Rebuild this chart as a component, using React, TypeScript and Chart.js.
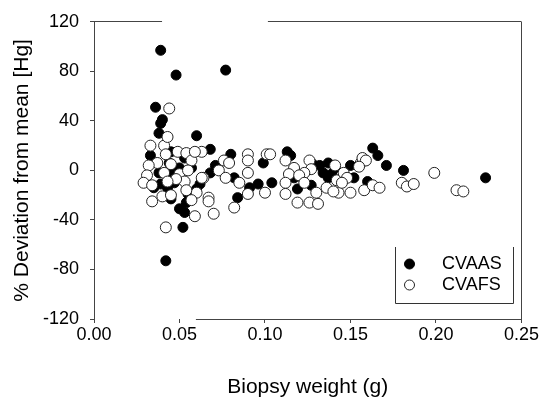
import { useEffect, useRef } from "react";
import { Chart, registerables } from "chart.js";

Chart.register(...registerables);

// ---- data ----
const SERIES_LABELS = ["CVAAS", "CVAFS"];
const X_TICKS = [0, 0.05, 0.1, 0.15, 0.2, 0.25];
const Y_TICKS = [-120, -80, -40, 0, 40, 80, 120];
const X_TITLE = "Biopsy weight (g)";
const Y_TITLE = "% Deviation from mean [Hg]";

const CVAAS_WEIGHT = [
  0.039, 0.048, 0.077, 0.036, 0.040, 0.039, 0.038, 0.060, 0.068, 0.033,
  0.080, 0.045, 0.042, 0.052, 0.050, 0.053, 0.045, 0.163, 0.166, 0.171,
  0.181, 0.229, 0.150, 0.152, 0.160, 0.145, 0.137, 0.132, 0.134, 0.137,
  0.139, 0.113, 0.115, 0.104, 0.119, 0.099, 0.096, 0.082, 0.084, 0.068,
  0.060, 0.050, 0.057, 0.038, 0.039, 0.043, 0.035, 0.047, 0.055, 0.044,
  0.053, 0.091, 0.121, 0.127, 0.128, 0.141, 0.117, 0.046, 0.054, 0.062,
  0.071,
];
const CVAAS_DEVIATION = [
  97, 77, 81, 51, 41, 38, 30, 28, 17, 12,
  13, 15, -73, -46, -31, -34, -23, 18, 12, 4,
  0, -6, 4, -6, -9, -6, 6, 4, -2, -6,
  -3, 15, 12, -10, -15, 6, -11, -6, -22, -2,
  -15, 2, 2, -2, -11, -14, -14, -10, -19, 6,
  10, -14, -5, -12, 5, 2, -6, -2, -26, -11,
  4,
];

const CVAFS_WEIGHT = [
  0.044, 0.033, 0.041, 0.043, 0.042, 0.037, 0.032, 0.031, 0.029, 0.034,
  0.041, 0.045, 0.049, 0.054, 0.057, 0.063, 0.059, 0.050, 0.055, 0.053,
  0.048, 0.043, 0.064, 0.073, 0.076, 0.079, 0.090, 0.090, 0.090, 0.085,
  0.101, 0.090, 0.067, 0.060, 0.067, 0.070, 0.059, 0.042, 0.082, 0.034,
  0.040, 0.045, 0.054, 0.057, 0.077, 0.063, 0.100, 0.103, 0.112, 0.117,
  0.114, 0.126, 0.127, 0.123, 0.120, 0.123, 0.141, 0.142, 0.143, 0.136,
  0.112, 0.112, 0.119, 0.126, 0.131, 0.146, 0.156, 0.157, 0.159, 0.148,
  0.145, 0.150, 0.158, 0.163, 0.167, 0.180, 0.183, 0.187, 0.199, 0.212,
  0.216, 0.155, 0.140, 0.130,
];
const CVAFS_DEVIATION = [
  50, 20, 20, 27, 13, 6, 4, -4, -10, -12,
  -2, 5, 15, 14, 8, 15, 15, -3, 0, -9,
  -7, -9, -6, 0, 8, 6, 13, 8, -2, -10,
  13, -19, -22, -18, -25, -35, -37, -46, -30, -25,
  -21, -20, -16, -24, -6, -6, -18, 13, 8, 2,
  -3, 8, 1, -2, -4, -10, 4, -8, -18, -14,
  -10, -19, -26, -26, -27, -2, 6, 10, 8, -6,
  -10, -18, -16, -12, -14, -10, -13, -11, -2, -16,
  -17, 3, -17, -18,
];

// frame line pieces (in data units along x), reproducing the reference's broken frame
const TOP_FRAME_PIECES = [
  [0, 0.0398],
  [0.1017, 0.25],
];
const BOTTOM_FRAME_PIECES = [[0.0596, 0.25]];

const FONT = "'Liberation Sans', Arial, sans-serif";

const toPoints = (xs: number[], ys: number[]) => xs.map((x, i) => ({ x, y: ys[i] }));

const framePlugin = {
  id: "brokenFrame",
  beforeDatasetsDraw(chart: any) {
    const { ctx, chartArea, scales } = chart;
    const { left, right, top, bottom } = chartArea;
    const xs = scales.x;
    const px = (v: number) => Math.floor(v) + 0.5;
    ctx.save();
    ctx.strokeStyle = "#444";
    ctx.lineWidth = 1;
    const seg = (x1: number, y1: number, x2: number, y2: number) => {
      ctx.beginPath();
      ctx.moveTo(x1, y1);
      ctx.lineTo(x2, y2);
      ctx.stroke();
    };
    seg(px(left), top, px(left), bottom);
    seg(px(right), top, px(right), bottom);
    TOP_FRAME_PIECES.forEach(([a, b]) =>
      seg(xs.getPixelForValue(a), px(top), xs.getPixelForValue(b), px(top))
    );
    BOTTOM_FRAME_PIECES.forEach(([a, b]) =>
      seg(xs.getPixelForValue(a), px(bottom), xs.getPixelForValue(b), px(bottom))
    );
    ctx.restore();
  },
};

const legendPlugin = {
  id: "boxLegend",
  afterDraw(chart: any) {
    const { ctx } = chart;
    const box = { left: 395.5, right: 513.5, top: 247, bottom: 303.5 };
    ctx.save();
    ctx.strokeStyle = "#333";
    ctx.lineWidth = 1;
    ctx.beginPath();
    ctx.moveTo(box.left, box.top);
    ctx.lineTo(box.left, box.bottom);
    ctx.lineTo(box.right, box.bottom);
    ctx.lineTo(box.right, box.top);
    ctx.stroke();
    const rows = [264, 285];
    SERIES_LABELS.forEach((label, i) => {
      const ds = chart.data.datasets.find((d: any) => d.label === label);
      const y = rows[i];
      ctx.beginPath();
      ctx.arc(409.5, y, 5, 0, Math.PI * 2);
      ctx.fillStyle = ds.backgroundColor;
      ctx.fill();
      ctx.strokeStyle = ds.borderColor;
      ctx.lineWidth = ds.borderWidth;
      ctx.stroke();
      ctx.fillStyle = "#000";
      ctx.font = `18px ${FONT}`;
      ctx.textAlign = "left";
      ctx.textBaseline = "middle";
      ctx.fillText(label, 442, y);
    });
    ctx.restore();
  },
};

export default function App() {
  const ref = useRef<HTMLCanvasElement>(null);

  useEffect(() => {
    if (!ref.current) return;
    const tickFont = { family: FONT, size: 18 };
    const titleFont = { family: FONT, size: 21 };
    const chart = new Chart(ref.current, {
      type: "scatter",
      data: {
        datasets: [
          {
            label: SERIES_LABELS[1],
            data: toPoints(CVAFS_WEIGHT, CVAFS_DEVIATION),
            backgroundColor: "#ffffff",
            borderColor: "#222222",
            borderWidth: 1,
            pointRadius: 5.5,
          },
          {
            label: SERIES_LABELS[0],
            data: toPoints(CVAAS_WEIGHT, CVAAS_DEVIATION),
            backgroundColor: "#000000",
            borderColor: "#000000",
            borderWidth: 1,
            pointRadius: 5,
          },
        ],
      },
      options: {
        responsive: false,
        animation: false,
        events: [],
        layout: { padding: { left: 0, right: 18, top: 21, bottom: 0 } },
        plugins: {
          legend: { display: false },
          tooltip: { enabled: false },
        },
        scales: {
          x: {
            type: "linear",
            min: 0,
            max: 0.25,
            afterBuildTicks: (scale: any) => {
              scale.ticks = X_TICKS.map((v) => ({ value: v }));
            },
            afterFit: (scale: any) => {
              scale.height = 82;
            },
            border: { display: false },
            grid: {
              drawOnChartArea: false,
              drawTicks: true,
              tickLength: 4,
              tickColor: "#444",
            },
            ticks: {
              padding: 1,
              color: "#000",
              font: tickFont,
              maxRotation: 0,
              callback: (v: any) => Number(v).toFixed(2),
            },
            title: {
              display: true,
              text: X_TITLE,
              color: "#000",
              font: titleFont,
              padding: { top: 0, bottom: 1 },
            },
          },
          y: {
            type: "linear",
            min: -120,
            max: 120,
            afterBuildTicks: (scale: any) => {
              scale.ticks = Y_TICKS.map((v) => ({ value: v }));
            },
            afterFit: (scale: any) => {
              scale.width = 94;
            },
            border: { display: false },
            grid: {
              drawOnChartArea: false,
              drawTicks: true,
              tickLength: 4,
              tickColor: "#444",
            },
            ticks: {
              padding: 11,
              color: "#000",
              font: tickFont,
              callback: (v: any) => String(v),
            },
            title: {
              display: true,
              text: Y_TITLE,
              color: "#000",
              font: titleFont,
              padding: { top: 10, bottom: 0 },
            },
          },
        },
      },
      plugins: [framePlugin, legendPlugin],
    } as any);
    return () => chart.destroy();
  }, []);

  return (
    <div style={{ position: "fixed", left: 0, top: 0, width: 540, height: 401, background: "#fff" }}>
      <canvas ref={ref} width={540} height={401} style={{ display: "block" }} />
    </div>
  );
}
